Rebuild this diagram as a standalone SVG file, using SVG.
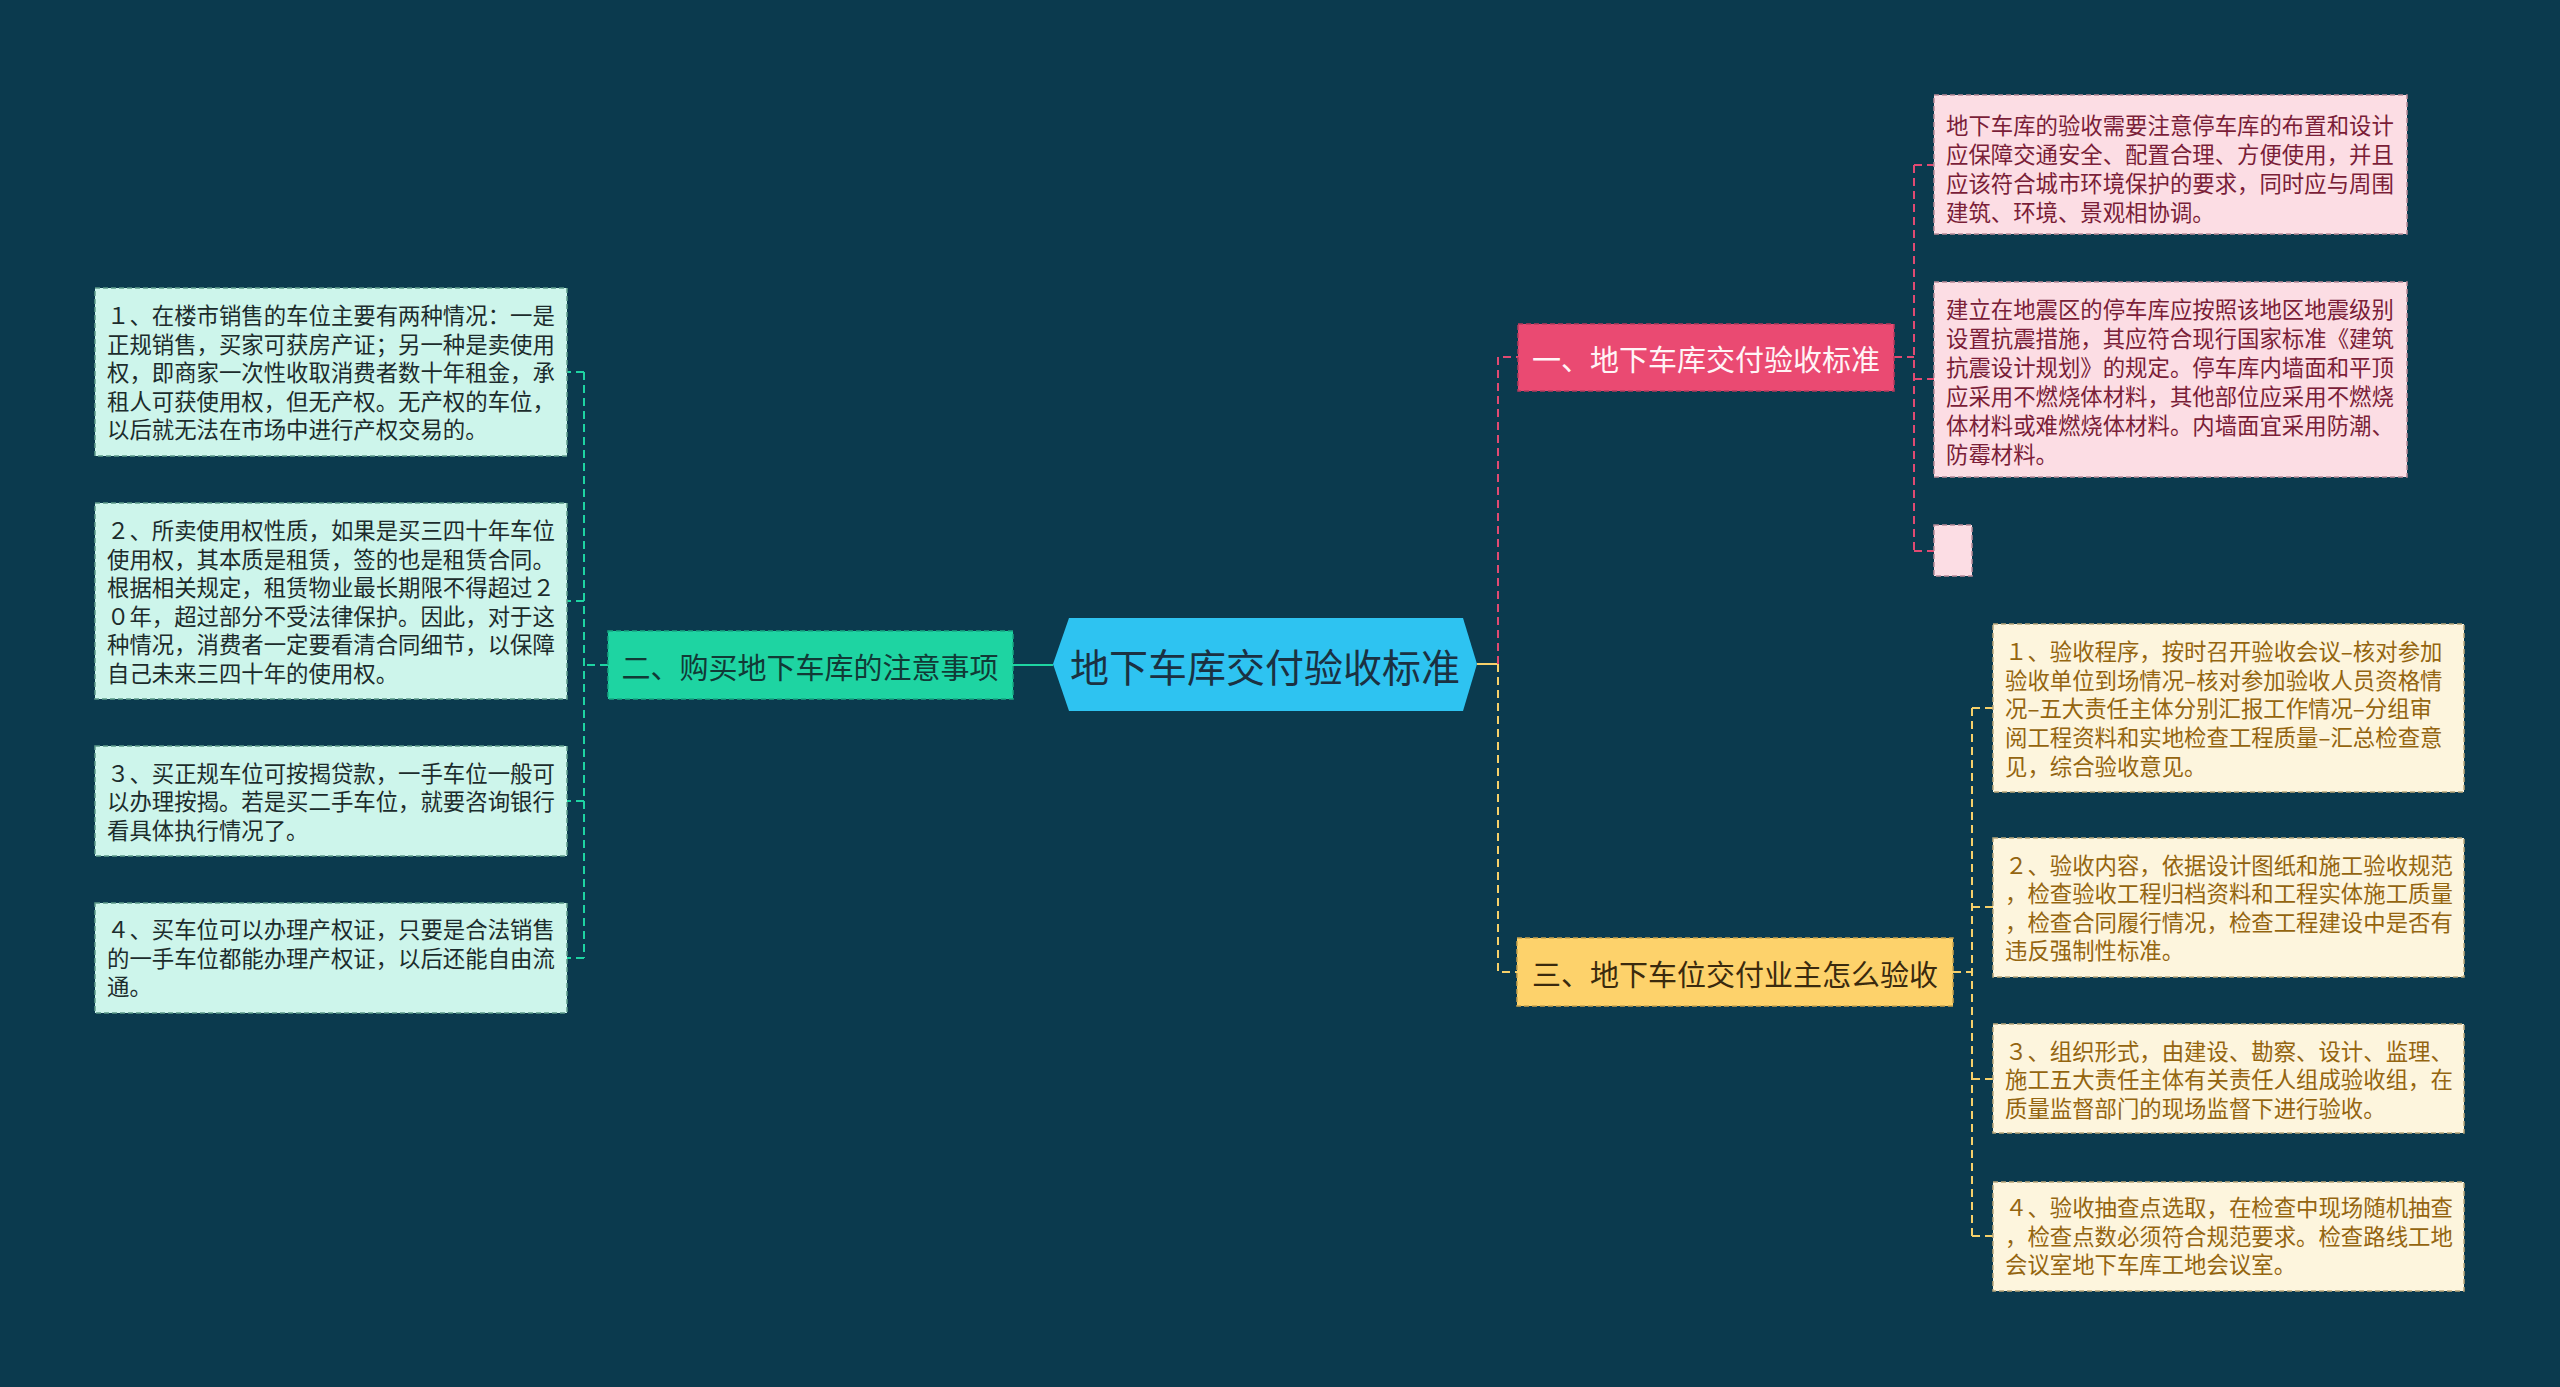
<svg xmlns="http://www.w3.org/2000/svg" width="2560" height="1387" viewBox="0 0 2560 1387">
<style>
text{font-family:"Noto Sans CJK SC","Noto Sans",sans-serif}
.t{font-size:22.4px}
.pk{fill:#fcdde4;stroke:#b88a98;stroke-width:1.5;stroke-dasharray:5 3}
.pkt{fill:#7a1e38}
.mt{fill:#cdf5eb;stroke:#5d9a8a;stroke-width:1.5;stroke-dasharray:5 3}
.mtt{fill:#1c2c2c}
.yl{fill:#fdf5dd;stroke:#b9a67a;stroke-width:1.5;stroke-dasharray:5 3}
.ylt{fill:#946510}
.c{fill:none;stroke-width:2;stroke-dasharray:8 5}
.cp{stroke:#e04a72}
.cg{stroke:#1ed4a2}
.cy{stroke:#f6d06a}
</style>
<rect width="2560" height="1387" fill="#0b3a4e"/>
<g id="connectors">
<line x1="1477" y1="664" x2="1498" y2="664" stroke="#f6d06a" stroke-width="2"/>
<path class="c cp" d="M1498 664 V357 H1518"/>
<path class="c cy" d="M1498 664 V972 H1517"/>
<line x1="1053" y1="665" x2="1013" y2="665" stroke="#1ed4a2" stroke-width="2"/>
<path class="c cg" d="M608 665 H584"/>
<path class="c cg" d="M584 372 V958"/>
<path class="c cg" d="M584 372 H567 M584 601 H567 M584 801 H567 M584 958 H567"/>
<path class="c cp" d="M1894 357 H1914"/>
<path class="c cp" d="M1914 165 V551"/>
<path class="c cp" d="M1914 165 H1934 M1914 379 H1934 M1914 551 H1934"/>
<path class="c cy" d="M1953 972 H1972"/>
<path class="c cy" d="M1972 708 V1236"/>
<path class="c cy" d="M1972 708 H1993 M1972 907 H1993 M1972 1079 H1993 M1972 1236 H1993"/>
</g>
<g id="root">
<polygon points="1053,664 1069,618 1463,618 1477,664 1463,711 1069,711" fill="#2ec3f1"/>
<text x="1265" y="665" font-size="39" fill="#1b3142" text-anchor="middle" dominant-baseline="central">地下车库交付验收标准</text>
</g>
<g id="n1">
<rect x="1518" y="324" width="376" height="67" fill="#ea4a72" stroke="#b83a5c" stroke-width="1.5" stroke-dasharray="5 3"/>
<text x="1706" y="358" font-size="29" fill="#fff4f6" text-anchor="middle" dominant-baseline="central">一、地下车库交付验收标准</text>
</g>
<g id="n2">
<rect x="608" y="631" width="405" height="68" fill="#1ed4a2" stroke="#17a882" stroke-width="1.5" stroke-dasharray="5 3"/>
<text x="810" y="666" font-size="29" fill="#113a36" text-anchor="middle" dominant-baseline="central">二、购买地下车库的注意事项</text>
</g>
<g id="n3">
<rect x="1517" y="938" width="436" height="68" fill="#fdd26b" stroke="#c9a24c" stroke-width="1.5" stroke-dasharray="5 3"/>
<text x="1735" y="973" font-size="29" fill="#3a2a0e" text-anchor="middle" dominant-baseline="central">三、地下车位交付业主怎么验收</text>
</g>
<g id="p1">
<rect class="pk" x="1934" y="95" width="473" height="139"/>
<text class="t pkt"><tspan x="1946" y="134">地下车库的验收需要注意停车库的布置和设计</tspan><tspan x="1946" y="163">应保障交通安全、配置合理、方便使用，并且</tspan><tspan x="1946" y="192">应该符合城市环境保护的要求，同时应与周围</tspan><tspan x="1946" y="221">建筑、环境、景观相协调。</tspan></text>
</g>
<g id="p2">
<rect class="pk" x="1934" y="282" width="473" height="195"/>
<text class="t pkt"><tspan x="1946" y="318">建立在地震区的停车库应按照该地区地震级别</tspan><tspan x="1946" y="347">设置抗震措施，其应符合现行国家标准《建筑</tspan><tspan x="1946" y="376">抗震设计规划》的规定。停车库内墙面和平顶</tspan><tspan x="1946" y="405">应采用不燃烧体材料，其他部位应采用不燃烧</tspan><tspan x="1946" y="434">体材料或难燃烧体材料。内墙面宜采用防潮、</tspan><tspan x="1946" y="463">防霉材料。</tspan></text>
</g>
<g id="p3">
<rect class="pk" x="1934" y="525" width="38" height="51"/>
</g>
<g id="m1">
<rect class="mt" x="95" y="288" width="472" height="168"/>
<text class="t mtt"><tspan x="107" y="324">１、在楼市销售的车位主要有两种情况：一是</tspan><tspan x="107" y="353">正规销售，买家可获房产证；另一种是卖使用</tspan><tspan x="107" y="381">权，即商家一次性收取消费者数十年租金，承</tspan><tspan x="107" y="410">租人可获使用权，但无产权。无产权的车位，</tspan><tspan x="107" y="438">以后就无法在市场中进行产权交易的。</tspan></text>
</g>
<g id="m2">
<rect class="mt" x="95" y="503" width="472" height="196"/>
<text class="t mtt"><tspan x="107" y="539">２、所卖使用权性质，如果是买三四十年车位</tspan><tspan x="107" y="568">使用权，其本质是租赁，签的也是租赁合同。</tspan><tspan x="107" y="596">根据相关规定，租赁物业最长期限不得超过２</tspan><tspan x="107" y="625">０年，超过部分不受法律保护。因此，对于这</tspan><tspan x="107" y="653">种情况，消费者一定要看清合同细节，以保障</tspan><tspan x="107" y="682">自己未来三四十年的使用权。</tspan></text>
</g>
<g id="m3">
<rect class="mt" x="95" y="746" width="472" height="110"/>
<text class="t mtt"><tspan x="107" y="782">３、买正规车位可按揭贷款，一手车位一般可</tspan><tspan x="107" y="810">以办理按揭。若是买二手车位，就要咨询银行</tspan><tspan x="107" y="839">看具体执行情况了。</tspan></text>
</g>
<g id="m4">
<rect class="mt" x="95" y="903" width="472" height="110"/>
<text class="t mtt"><tspan x="107" y="938">４、买车位可以办理产权证，只要是合法销售</tspan><tspan x="107" y="967">的一手车位都能办理产权证，以后还能自由流</tspan><tspan x="107" y="995">通。</tspan></text>
</g>
<g id="y1">
<rect class="yl" x="1993" y="624" width="471" height="168"/>
<text class="t ylt"><tspan x="2005" y="660">１、验收程序，按时召开验收会议–核对参加</tspan><tspan x="2005" y="689">验收单位到场情况–核对参加验收人员资格情</tspan><tspan x="2005" y="717">况–五大责任主体分别汇报工作情况–分组审</tspan><tspan x="2005" y="746">阅工程资料和实地检查工程质量–汇总检查意</tspan><tspan x="2005" y="775">见，综合验收意见。</tspan></text>
</g>
<g id="y2">
<rect class="yl" x="1993" y="838" width="471" height="139"/>
<text class="t ylt"><tspan x="2005" y="874">２、验收内容，依据设计图纸和施工验收规范</tspan><tspan x="2005" y="902">，检查验收工程归档资料和工程实体施工质量</tspan><tspan x="2005" y="931">，检查合同履行情况，检查工程建设中是否有</tspan><tspan x="2005" y="959">违反强制性标准。</tspan></text>
</g>
<g id="y3">
<rect class="yl" x="1993" y="1024" width="471" height="109"/>
<text class="t ylt"><tspan x="2005" y="1060">３、组织形式，由建设、勘察、设计、监理、</tspan><tspan x="2005" y="1088">施工五大责任主体有关责任人组成验收组，在</tspan><tspan x="2005" y="1117">质量监督部门的现场监督下进行验收。</tspan></text>
</g>
<g id="y4">
<rect class="yl" x="1993" y="1182" width="471" height="109"/>
<text class="t ylt"><tspan x="2005" y="1216">４、验收抽查点选取，在检查中现场随机抽查</tspan><tspan x="2005" y="1245">，检查点数必须符合规范要求。检查路线工地</tspan><tspan x="2005" y="1273">会议室地下车库工地会议室。</tspan></text>
</g>
</svg>
